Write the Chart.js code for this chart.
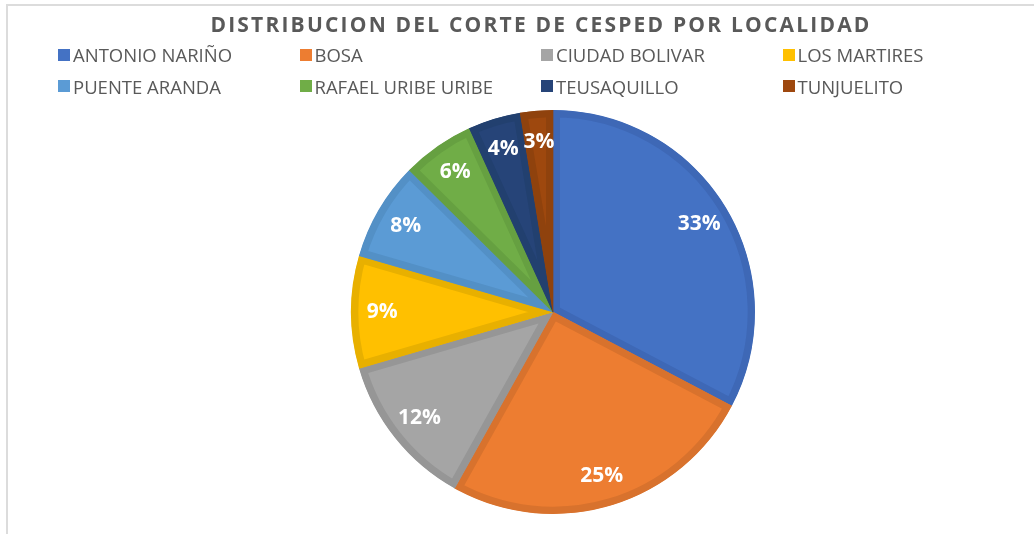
<!DOCTYPE html>
<html>
<head>
<meta charset="utf-8">
<script src="https://cdn.jsdelivr.net/npm/chart.js@4.4.0/dist/chart.umd.min.js"></script>
<style>
  html, body { margin: 0; padding: 0; background: #ffffff; width: 1034px; height: 534px; overflow: hidden; }
  #frame { position: absolute; left: 6px; top: 4px; width: 1100px; height: 600px; border: 2px solid #dcdcdc; box-sizing: border-box; }
  #wrap { position: absolute; left: 0; top: 0; width: 1034px; height: 534px; }
  #legend { position: absolute; left: 58px; top: 39px; display: grid; grid-template-columns: repeat(4, 241.5px); grid-auto-rows: 31.5px; font-family: "Open Sans", sans-serif; font-size: 18.5px; color: #595959; }
  .item { display: flex; align-items: center; white-space: nowrap; }
  .sw { width: 12px; height: 12px; margin-right: 3px; flex: none; }
</style>
</head>
<body>
<div id="frame"></div>
<div id="wrap"><canvas id="c" width="1034" height="534"></canvas></div>
<div id="legend"></div>
<script>
const titleText = "DISTRIBUCION DEL CORTE DE CESPED POR LOCALIDAD";
const categories = ["ANTONIO NARIÑO", "BOSA", "CIUDAD BOLIVAR", "LOS MARTIRES", "PUENTE ARANDA", "RAFAEL URIBE URIBE", "TEUSAQUILLO", "TUNJUELITO"];
const values = [32.7, 25.4, 12.4, 9.0, 7.9, 5.8, 4.2, 2.6];
const fillColors = ["#4472C4", "#ED7D31", "#A5A5A5", "#FFC000", "#5B9BD5", "#70AD47", "#264478", "#9E480E"];
const borderColors = ["#3E68B6", "#D8722D", "#969696", "#E8B000", "#5390C6", "#66A041", "#22406F", "#8F420D"];

const total = values.reduce((a, b) => a + b, 0);

const titlePlugin = {
  id: 'customTitle',
  afterDraw(chart) {
    const ctx = chart.ctx;
    ctx.save();
    ctx.font = "bold 21px 'Open Sans', sans-serif";
    ctx.fillStyle = "#595959";
    ctx.textAlign = "center";
    ctx.textBaseline = "alphabetic";
    ctx.letterSpacing = "2.2px";
    ctx.fillText(titleText, 541, 32);
    ctx.restore();
  }
};

const labelPlugin = {
  id: 'pctLabels',
  afterDatasetsDraw(chart) {
    const ctx = chart.ctx;
    const meta = chart.getDatasetMeta(0);
    ctx.save();
    ctx.font = "bold 21px 'Open Sans', sans-serif";
    ctx.fillStyle = "#ffffff";
    ctx.textAlign = "center";
    ctx.textBaseline = "middle";
    meta.data.forEach((arc, i) => {
      const p = arc.getProps(['x', 'y', 'startAngle', 'endAngle', 'outerRadius'], true);
      const mid = (p.startAngle + p.endAngle) / 2;
      const r = p.outerRadius * 0.845;
      const pct = Math.round(values[i] / total * 100) + "%";
      ctx.fillText(pct, p.x + Math.cos(mid) * r, p.y + Math.sin(mid) * r);
    });
    ctx.restore();
  }
};

const chart = new Chart(document.getElementById('c'), {
  type: 'pie',
  data: {
    labels: categories,
    datasets: [{
      data: values,
      backgroundColor: fillColors,
      borderColor: borderColors,
      borderWidth: 7,
      borderAlign: 'inner'
    }]
  },
  options: {
    responsive: false,
    animation: false,
    layout: { padding: { left: 351, right: 279, top: 110, bottom: 20 } },
    plugins: {
      legend: { display: false },
      title: { display: false },
      tooltip: { enabled: false }
    }
  },
  plugins: [titlePlugin, labelPlugin]
});

const legend = document.getElementById('legend');
categories.forEach((name, i) => {
  const item = document.createElement('div');
  item.className = 'item';
  const sw = document.createElement('span');
  sw.className = 'sw';
  sw.style.background = fillColors[i];
  const tx = document.createElement('span');
  tx.textContent = name;
  item.appendChild(sw);
  item.appendChild(tx);
  legend.appendChild(item);
});
</script>
</body>
</html>
